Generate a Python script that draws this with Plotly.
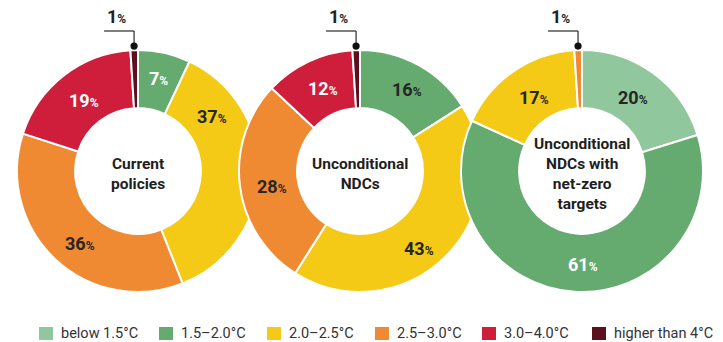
import math
import plotly.graph_objects as go

# ---- data -------------------------------------------------------------
categories = ["below 1.5°C", "1.5–2.0°C", "2.0–2.5°C", "2.5–3.0°C", "3.0–4.0°C", "higher than 4°C"]
current_policies = [0, 7, 37, 36, 19, 1]
unconditional_ndcs = [0, 16, 43, 28, 12, 1]
netzero_ndcs = [20, 61, 17, 1, 0, 0]
scenario_titles = [
    ["Current", "policies"],
    ["Unconditional", "NDCs"],
    ["Unconditional", "NDCs with", "net-zero", "targets"],
]

# ---- styling ----------------------------------------------------------
W, H = 723, 342
FONT = "Roboto"
colors = {
    "below 1.5°C": "#90c79c",
    "1.5–2.0°C": "#65ab70",
    "2.0–2.5°C": "#f5ca16",
    "2.5–3.0°C": "#f08a32",
    "3.0–4.0°C": "#cf1e3b",
    "higher than 4°C": "#5c0f1d",
}
centers_x = [138, 360, 582]
CY = 171
R = 121
HOLE = 0.52
# label offsets (px, relative to each donut centre), one entry per category
label_offsets = [
    [None, (20, -93), (74, -54), (-58, 72), (-54, -70), None],
    [None, (47, -82), (59, 77), (-88, 15), (-37, -83), None],
    [(51, -73), (1, 93), (-48, -74), None, None, None],
]
light_labels = [
    {1, 4},
    {4},
    {1},
]
legend_x = [39, 159, 267, 375, 482, 592]


def px(x):
    return x / W


def py(y):
    return 1 - y / H


def pct_text(v, small=12):
    return f"<b>{v}<span style='font-size:{small}px'>%</span></b>"


fig = go.Figure()
annotations = []
shapes = []

series = [current_policies, unconditional_ndcs, netzero_ndcs]
for k, vals in enumerate(series):
    cx = centers_x[k]
    labs = [c for c, v in zip(categories, vals) if v > 0]
    vs = [v for v in vals if v > 0]
    fig.add_trace(go.Pie(
        labels=labs, values=vs, hole=HOLE, sort=False,
        direction="clockwise", rotation=0,
        marker=dict(colors=[colors[c] for c in labs],
                    line=dict(color="white", width=2)),
        textinfo="none", hoverinfo="label+percent",
        domain=dict(x=[px(cx - R), px(cx + R)], y=[py(CY + R), py(CY - R)]),
        showlegend=False,
    ))

    total = sum(vs)
    cum = 0
    for i, (cat, v) in enumerate(zip(categories, vals)):
        if v <= 0:
            continue
        if v < 2:
            # thin slice: callout with a leader line above the ring
            theta = 2 * math.pi * (cum + v / 2) / total
            dx = cx + (R + 4) * math.sin(theta)
            dy = CY - (R + 4) * math.cos(theta)
            ly = 31
            shapes.append(dict(type="line", xref="paper", yref="paper",
                               x0=px(dx - 30), y0=py(ly), x1=px(dx), y1=py(ly),
                               line=dict(color="#2b2b2b", width=1.2)))
            shapes.append(dict(type="line", xref="paper", yref="paper",
                               x0=px(dx), y0=py(ly), x1=px(dx), y1=py(dy),
                               line=dict(color="#2b2b2b", width=1.2)))
            shapes.append(dict(type="circle", xref="paper", yref="paper",
                               x0=px(dx - 3.6), x1=px(dx + 3.6),
                               y0=py(dy + 3.6), y1=py(dy - 3.6),
                               fillcolor="#111111", line=dict(width=0)))
            annotations.append(dict(
                x=px(dx - 18), y=py(17), xref="paper", yref="paper",
                text=pct_text(v), showarrow=False,
                xanchor="center", yanchor="middle",
                font=dict(family=FONT, size=18, color="#222222")))
        else:
            ox, oy = label_offsets[k][i]
            col = "#ffffff" if i in light_labels[k] else "#262626"
            annotations.append(dict(
                x=px(cx + ox), y=py(CY + oy), xref="paper", yref="paper",
                text=pct_text(v), showarrow=False,
                xanchor="center", yanchor="middle",
                font=dict(family=FONT, size=18, color=col)))
        cum += v

    # centre title
    annotations.append(dict(
        x=px(cx), y=py(CY + 3), xref="paper", yref="paper",
        text="<br>".join(f"<b>{line}</b>" for line in scenario_titles[k]),
        showarrow=False, align="center",
        xanchor="center", yanchor="middle",
        font=dict(family=FONT, size=15.5, color="#1e1e1e")))

# legend
for cat, lx in zip(categories, legend_x):
    shapes.append(dict(type="rect", xref="paper", yref="paper",
                       x0=px(lx), x1=px(lx + 14), y0=py(340), y1=py(327),
                       fillcolor=colors[cat], line=dict(width=0)))
    annotations.append(dict(
        x=px(lx + 20), y=py(333.5), xref="paper", yref="paper",
        text=cat, showarrow=False, xanchor="left", yanchor="middle",
        font=dict(family=FONT, size=14.5, color="#333333")))

fig.update_layout(
    width=W, height=H,
    margin=dict(l=0, r=0, t=0, b=0),
    paper_bgcolor="white", plot_bgcolor="white",
    showlegend=False,
    annotations=annotations, shapes=shapes,
)

fig.write_html("out.html")
